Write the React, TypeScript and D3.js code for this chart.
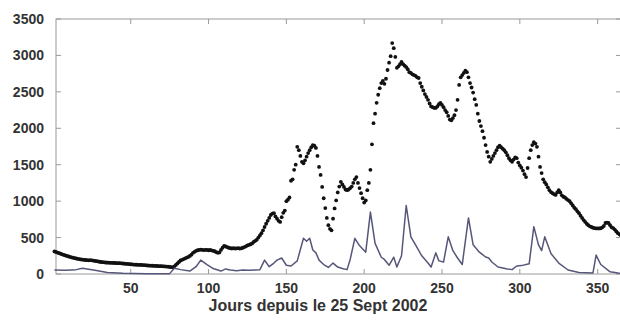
import React from "react";
import * as d3 from "d3";

// Black series: one value per day, days 1..365
const blackValues: number[] = [
  310, 302, 294, 286, 278, 270, 262, 255, 248, 241,
  235, 229, 223, 218, 213, 208, 204, 200, 197, 194,
  192, 190, 188, 190, 188, 184, 180, 176, 172, 168,
  165, 162, 160, 158, 156, 155, 154, 153, 152, 151,
  150, 149, 148, 146, 144, 142, 140, 138, 136, 134,
  132, 130, 128, 127, 126, 125, 124, 123, 121, 119,
  117, 115, 114, 113, 112, 111, 110, 109, 108, 107,
  106, 104, 102, 100, 97, 94, 92, 105, 125, 145,
  165, 185, 195, 205, 215, 225, 235, 248, 265, 290,
  305, 318, 326, 330, 335, 332, 328, 332, 330, 326,
  330, 324, 318, 312, 300, 292, 296, 330, 360, 385,
  378, 368, 360, 355, 350, 354, 350, 352, 355, 350,
  352, 360, 370, 380, 392, 400, 408, 420, 440, 455,
  470, 500, 530, 560, 600, 645, 690, 730, 770, 810,
  830, 835, 790, 760, 730, 715, 780, 840, 870, 1000,
  1020, 1050, 1280, 1300, 1430, 1500, 1745, 1700, 1620, 1540,
  1520, 1560, 1610, 1660, 1700, 1740, 1770, 1760, 1730, 1620,
  1470, 1360, 1195, 1040, 905, 770, 670, 620, 600, 760,
  900, 1010, 1120, 1200, 1265, 1230, 1195, 1160, 1150, 1160,
  1180, 1200, 1250, 1300, 1330, 1250, 1180, 1110, 1040, 980,
  1010, 1150, 1250, 1430, 1780, 2070, 2200, 2350, 2460, 2550,
  2620, 2650, 2610, 2680, 2800, 2900, 2990, 3170, 3100, 2980,
  2830, 2850, 2880, 2910, 2880, 2860, 2840, 2810, 2770, 2760,
  2740, 2730, 2720, 2700, 2690, 2620, 2570, 2520, 2470, 2430,
  2390, 2340, 2300, 2290, 2280, 2280, 2300, 2330, 2350, 2320,
  2290, 2250, 2220, 2170, 2120, 2110, 2140, 2180, 2250, 2390,
  2595, 2700, 2730, 2760, 2790, 2770, 2700, 2620, 2560, 2490,
  2400, 2320, 2200, 2100, 2030, 1960, 1870, 1770, 1675, 1610,
  1540, 1580, 1620, 1660, 1700, 1740, 1760, 1740, 1720, 1700,
  1670, 1630, 1590, 1560, 1540, 1570, 1600, 1590, 1530, 1490,
  1460, 1420, 1370, 1330, 1455, 1590, 1700, 1770, 1810, 1790,
  1745, 1610, 1470, 1385, 1300, 1260, 1230, 1190, 1150, 1125,
  1110, 1095, 1085, 1120, 1150, 1120, 1080, 1060, 1050, 1030,
  1015, 1000, 970, 940, 910, 890, 860, 835, 800, 770,
  740, 715, 690, 670, 655, 645, 635, 630, 625, 625,
  625, 628, 640, 660, 700, 705, 700, 670, 640, 630,
  610, 585, 560, 545, 530,
];

// Blue series: vertices (day, value)
const blueDays: number[] = [
  1, 8, 15, 19, 22, 27, 35, 45, 60, 75, 78, 82, 88, 92, 95, 99, 103, 108, 111,
  114, 118, 122, 126, 130, 133, 136, 139, 142, 144, 147, 150, 153, 157, 161,
  163, 165, 167, 169, 171, 174, 177, 180, 183, 186, 189, 191, 194, 197, 201,
  204, 207, 211, 213, 216, 219, 221, 224, 227, 230, 233, 237, 241, 243, 246,
  248, 251, 254, 257, 260, 263, 267, 270, 274, 278, 280, 282, 286, 292, 295,
  298, 301, 306, 309, 312, 314, 316, 320, 325, 331, 338, 347, 349, 352, 358,
  363, 365,
];
const blueValues: number[] = [
  55, 50, 60, 80, 70, 50, 20, 10, 5, 5, 80, 60, 40, 100, 190, 130, 75, 40, 70,
  55, 45, 55, 50, 55, 60, 190, 100, 150, 190, 220, 120, 110, 180, 490,
  450, 490, 330, 290, 190, 130, 90, 150, 95, 75, 60, 200, 490, 390, 300,
  850, 420, 230, 200, 120, 230, 95, 250, 940, 510, 400, 250, 150, 95, 290,
  180, 165, 510, 320, 220, 130, 770, 400, 300, 233, 220, 165, 96, 70, 60,
  110, 115, 140, 650, 400, 320, 510, 280, 150, 55, 20, 15, 260, 130, 30,
  15, 10,
];

const xTicks: number[] = [50, 100, 150, 200, 250, 300, 350];
const yTicks: number[] = [0, 500, 1000, 1500, 2000, 2500, 3000, 3500];
const xTitle = "Jours depuis le 25 Sept 2002";

const W = 620;
const H = 322;
const left = 56;
const right = 621;
const top = 19;
const bottom = 274;

export default function App() {
  const x = d3.scaleLinear().domain([2, 365]).range([left, right]);
  const y = d3.scaleLinear().domain([0, 3500]).range([bottom, top]);

  const blueLine = d3
    .line<number>()
    .x((_, i) => x(blueDays[i]))
    .y((v) => y(v));

  const frame = "#9a9a9a";
  const textColor = "#333";
  const tickLen = 5;

  return (
    <svg
      width={W}
      height={H}
      style={{ position: "absolute", left: 0, top: 0, background: "#fff" }}
      fontFamily="'Liberation Sans', Arial, Helvetica, sans-serif"
    >
      <rect x={0} y={0} width={W} height={H} fill="#fff" />
      {/* frame */}
      <rect
        x={left}
        y={top}
        width={right - left}
        height={bottom - top}
        fill="none"
        stroke={frame}
        strokeWidth={1}
      />
      {/* ticks */}
      {xTicks.map((t) => (
        <g key={"xt" + t}>
          <line x1={x(t)} x2={x(t)} y1={bottom} y2={bottom - tickLen} stroke={frame} />
          <line x1={x(t)} x2={x(t)} y1={top} y2={top + tickLen} stroke={frame} />
          <text
            x={x(t)}
            y={bottom + 19}
            textAnchor="middle"
            fontSize={14}
            fontWeight="bold"
            fill={textColor}
          >
            {t}
          </text>
        </g>
      ))}
      {yTicks.map((t) => (
        <g key={"yt" + t}>
          <line x1={left} x2={left + tickLen} y1={y(t)} y2={y(t)} stroke={frame} />
          <line x1={right} x2={right - tickLen} y1={y(t)} y2={y(t)} stroke={frame} />
          <text
            x={44}
            y={y(t) + 5}
            textAnchor="end"
            fontSize={14}
            fontWeight="bold"
            fill={textColor}
          >
            {t}
          </text>
        </g>
      ))}
      <text
        x={318}
        y={311}
        textAnchor="middle"
        fontSize={16}
        fontWeight="bold"
        fill={textColor}
      >
        {xTitle}
      </text>
      {/* black dotted series */}
      <g fill="#111">
        {blackValues.map((v, i) => (
          <circle key={"b" + i} cx={x(i + 1)} cy={y(v)} r={1.9} />
        ))}
      </g>
      {/* blue series */}
      <path
        d={blueLine(blueValues) || ""}
        fill="none"
        stroke="#56567a"
        strokeWidth={1.5}
        strokeLinejoin="round"
      />
    </svg>
  );
}
